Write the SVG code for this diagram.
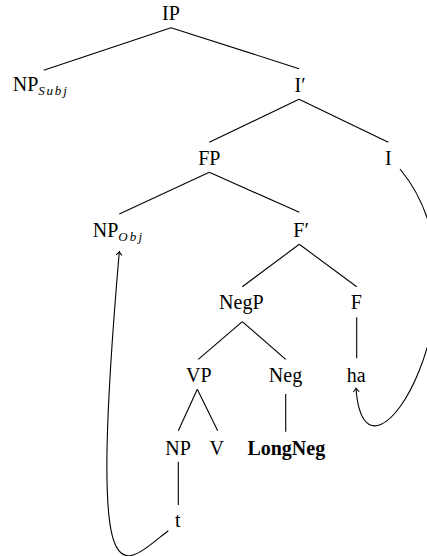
<svg xmlns="http://www.w3.org/2000/svg" width="427" height="556" viewBox="0 0 427 556">
<style>
text{font-family:'Liberation Serif',serif;font-size:20px;fill:#000;text-anchor:middle}
.s{font-size:13px;font-style:italic}
.l{text-anchor:start}
.b{font-weight:bold}
line,path{stroke:#000;stroke-width:1.1;fill:none}
</style>
<defs>
<marker id="ar" markerWidth="10" markerHeight="10" refX="0" refY="0" viewBox="-5 -5 10 10" orient="auto" markerUnits="userSpaceOnUse">
<path d="M-3.5,-3 Q-1.2,-0.6 0,0 Q-1.2,0.6 -3.5,3" style="stroke-width:1"/>
</marker>
</defs>
<g id="connectors">
<line x1="171" y1="27.7" x2="43.7" y2="70.3"/>
<line x1="171" y1="27.7" x2="299" y2="68.7"/>
<line x1="299" y1="99.3" x2="209.3" y2="142.3"/>
<line x1="299" y1="99.3" x2="388.3" y2="142.3"/>
<line x1="209.3" y1="172.3" x2="119.3" y2="214"/>
<line x1="209.3" y1="172.3" x2="299.3" y2="212.3"/>
<line x1="299.3" y1="244.3" x2="242.3" y2="286.7"/>
<line x1="299.3" y1="244.3" x2="356.7" y2="286.7"/>
<line x1="242.3" y1="321.7" x2="198.3" y2="359.3"/>
<line x1="242.3" y1="321.7" x2="285.7" y2="359.3"/>
<line x1="356.7" y1="317.3" x2="356.7" y2="358.3"/>
<line x1="197.3" y1="389.3" x2="178.3" y2="430.7"/>
<line x1="197.3" y1="389.3" x2="217.7" y2="430.7"/>
<line x1="285.7" y1="394" x2="285.7" y2="431.7"/>
<line x1="178.3" y1="461.7" x2="178.3" y2="505"/>
<path d="M168.3,530.7 C120,568 88,615 119.3,251.7" marker-end="url(#ar)"/>
<path d="M400,169 C500,290 365,515 356,388.3" marker-end="url(#ar)"/>
</g>
<g id="IP"><text x="171" y="19.5">IP</text></g>
<g id="NPSubj"><text class="l" x="12.7" y="90.7">NP<tspan class="s" dy="4" style="letter-spacing:1.8px">Subj</tspan></text></g>
<g id="Ibar"><text class="l" x="294.5" y="92">I′</text></g>
<g id="FP"><text x="209.3" y="165">FP</text></g>
<g id="I"><text x="388.3" y="165">I</text></g>
<g id="NPObj"><text class="l" x="92.7" y="236.7">NP<tspan class="s" dy="4" style="letter-spacing:2.2px">Obj</tspan></text></g>
<g id="Fbar"><text class="l" x="293.3" y="237.3">F′</text></g>
<g id="NegP"><text x="241.3" y="309.3">NegP</text></g>
<g id="F"><text x="356.3" y="309.3">F</text></g>
<g id="VP"><text x="198.8" y="381.7">VP</text></g>
<g id="Neg"><text x="285.5" y="381.7">Neg</text></g>
<g id="ha"><text x="356.3" y="381.7">ha</text></g>
<g id="NP"><text x="178" y="455">NP</text></g>
<g id="V"><text x="216.7" y="455">V</text></g>
<g id="LongNeg"><text class="b" x="286.3" y="455">LongNeg</text></g>
<g id="t"><text x="177.7" y="526.7">t</text></g>
</svg>
